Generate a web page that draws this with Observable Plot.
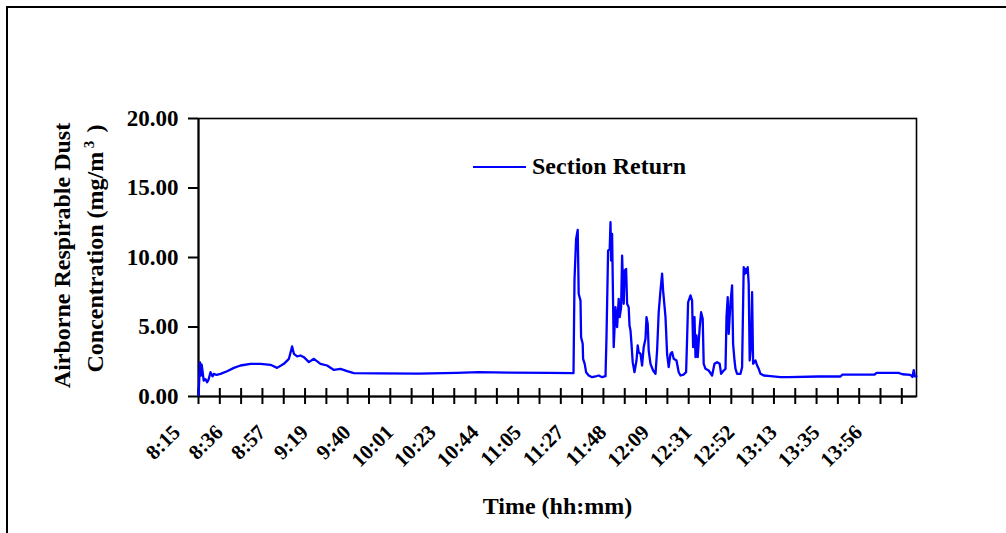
<!DOCTYPE html>
<html><head><meta charset="utf-8">
<script src="https://cdn.jsdelivr.net/npm/d3@7"></script>
<script src="https://cdn.jsdelivr.net/npm/@observablehq/plot@0.6"></script>
<style>
body{margin:0;background:#fff;}
#wrap{position:relative;width:1006px;height:533px;overflow:hidden;font-family:'Liberation Serif','Times New Roman',serif;font-weight:bold;}
#border{position:absolute;left:6px;top:6px;width:1100px;height:600px;border-left:2.5px solid #000;border-top:2.5px solid #000;}
#chart{position:absolute;left:0;top:0;}
#legend{position:absolute;left:473px;top:153px;display:flex;align-items:center;font-size:24px;}
#legend .sw{width:53px;height:0;border-top:2px solid #0000ff;margin-right:6px;}
</style></head><body>
<div id="wrap"><div id="chart"></div><div id="border"></div>
<div id="legend"><span class="sw"></span><span id="legtext"></span></div></div>
<script>
// minutes after 8:15
const minutes = [0,0.4,0.8,1.2,1.6,2.6,3.5,4.3,5.0,6.0,7.0,7.7,9.0,11.0,14.3,17.7,21.0,26.0,31.0,36.0,39.3,42.7,45.2,46.8,47.7,49.3,51.0,52.7,55.2,57.7,61.0,64.3,67.7,71.0,74.3,77.7,90,110,129,140,155,175,187.5,
188.0,188.8,189.6,190.1,191.0,191.3,192.1,192.3,193.1,193.8,195.1,196.8,198.5,200.1,201.8,203.5,
204.0,204.8,205.6,206.0,206.3,206.8,207.3,207.6,208.5,209.3,210.1,210.6,211.3,211.8,212.6,213.1,213.8,214.3,215.1,215.5,216.0,216.5,217.1,218.0,
219.0,219.6,220.1,221.0,221.8,222.6,223.5,224.0,224.6,225.1,226.0,227.3,228.5,
229.3,230.1,231.0,231.8,232.3,233.5,234.3,235.1,236.0,236.8,237.6,239.0,240.1,241.0,242.6,243.8,
244.3,244.8,246.0,246.8,247.3,248.0,248.5,249.0,249.6,250.6,251.3,252.1,252.6,253.5,255.1,256.8,
258.0,259.3,260.6,261.3,262.6,263.5,264.0,264.6,265.1,266.0,266.8,267.3,268.0,268.5,269.3,271.0,
271.8,272.6,273.0,273.5,274.0,274.6,275.1,275.6,276.3,276.8,277.3,278.5,279.3,280.1,281.0,282.6,286.0,291.0,295.0,
310.0,321.0,322.0,338.0,339.0,350.0,352.0,356.0,357.0,357.6,358.2,359.0];
const dust = [0.1,1.3,2.45,1.5,2.3,1.15,1.25,1.03,1.2,1.75,1.45,1.63,1.55,1.63,1.82,2.06,2.23,2.35,2.35,2.28,2.06,2.35,2.71,3.6,3.07,2.88,2.95,2.83,2.47,2.71,2.35,2.23,1.91,1.99,1.82,1.68,1.66,1.65,1.7,1.75,1.72,1.7,1.68,
8.39,11.34,11.99,7.39,6.9,4.27,3.79,2.71,2.35,1.75,1.51,1.39,1.44,1.51,1.39,1.46,
4.27,10.5,10.6,12.54,9.78,11.7,6.67,3.55,6.42,4.99,7.03,5.71,6.42,10.14,6.67,9.06,9.18,6.67,6.42,5.11,4.75,3.79,2.47,1.75,
2.59,3.67,3.19,3.07,2.23,3.55,4.15,5.71,5.23,3.31,2.35,1.87,1.63,
3.31,6.06,7.63,8.83,7.63,5.71,3.07,2.11,3.07,3.19,2.71,2.59,1.75,1.51,1.58,1.75,
4.15,6.78,7.27,6.9,3.55,5.71,2.83,4.39,2.83,4.99,6.06,5.59,2.35,1.99,1.87,1.51,
2.35,2.47,2.35,1.63,1.87,1.99,5.71,7.14,4.5,6.78,7.99,3.79,2.59,1.99,1.63,1.63,
2.11,9.3,8.8,9.18,8.9,9.3,8.1,2.59,3.79,7.5,2.35,2.59,2.23,1.99,1.63,1.51,1.46,1.39,1.39,
1.44,1.44,1.58,1.58,1.7,1.7,1.6,1.55,1.4,1.9,1.45,1.45];
const tickLabels = ["8:15","8:36","8:57","9:19","9:40","10:01","10:23","10:44","11:05","11:27","11:48","12:09","12:31","12:52","13:13","13:35","13:56"];
const labelStep = 21.3125; // minutes between labelled ticks
const yTicks = [0,5,10,15,20];
const seriesName = "Section Return";
const xTitle = "Time (hh:mm)";
const yTitle1 = "Airborne Respirable Dust";
const yTitle2 = "Concentration (mg/m";

const data = minutes.map((t,i)=>({t, v: dust[i]}));
const allTicks = d3.range(0, 34).map(i => i*labelStep/2);
const labelData = tickLabels.map((label,i)=>({t: i*labelStep, label}));
document.getElementById("legtext").textContent = seriesName;

const font = "'Liberation Serif','Times New Roman',serif";
const chart = Plot.plot({
  width: 1006, height: 533,
  marginLeft: 198, marginRight: 90, marginTop: 118, marginBottom: 137,
  style: {fontFamily: font, fontWeight: "bold", background: "transparent", color: "#000"},
  x: {domain: [0, 359]},
  y: {domain: [0, 20]},
  marks: [
    Plot.frame({stroke: "#000", strokeWidth: 1.6}),
    Plot.axisY({ticks: yTicks, tickFormat: d => d.toFixed(2), tickSize: 10, tickPadding: 10, strokeWidth: 2, fontSize: 23, fontWeight: "bold", label: null}),
    Plot.axisX({ticks: allTicks, tickFormat: () => "", tickSize: 16, dy: -8, strokeWidth: 2, label: null}),
    Plot.ruleX([0], {strokeWidth: 2}),
    Plot.ruleY([0], {strokeWidth: 2}),
    Plot.line(data, {x: "t", y: "v", stroke: "#0000ff", strokeWidth: 2.3}),
    Plot.text(labelData, {x: "t", frameAnchor: "bottom", text: "label", rotate: -45, textAnchor: "end", dx: -17, dy: 37, fontSize: 21, fontWeight: "bold"}),
    Plot.text([xTitle], {frameAnchor: "bottom", dy: 117, fontSize: 24, fontWeight: "bold"}),
    Plot.text([yTitle1], {frameAnchor: "left", rotate: -90, textAnchor: "middle", dx: -136, dy: -2, fontSize: 24, fontWeight: "bold"}),
    Plot.text([yTitle2], {frameAnchor: "left", rotate: -90, textAnchor: "start", dx: -103, dy: 115, fontSize: 24, fontWeight: "bold"}),
    Plot.text(["3"], {frameAnchor: "left", rotate: -90, textAnchor: "middle", dx: -109, dy: -113, fontSize: 15, fontWeight: "bold"}),
    Plot.text([")"], {frameAnchor: "left", rotate: -90, textAnchor: "middle", dx: -103, dy: -129, fontSize: 24, fontWeight: "bold"})
  ]
});
document.getElementById("chart").appendChild(chart);
</script>
</body></html>
